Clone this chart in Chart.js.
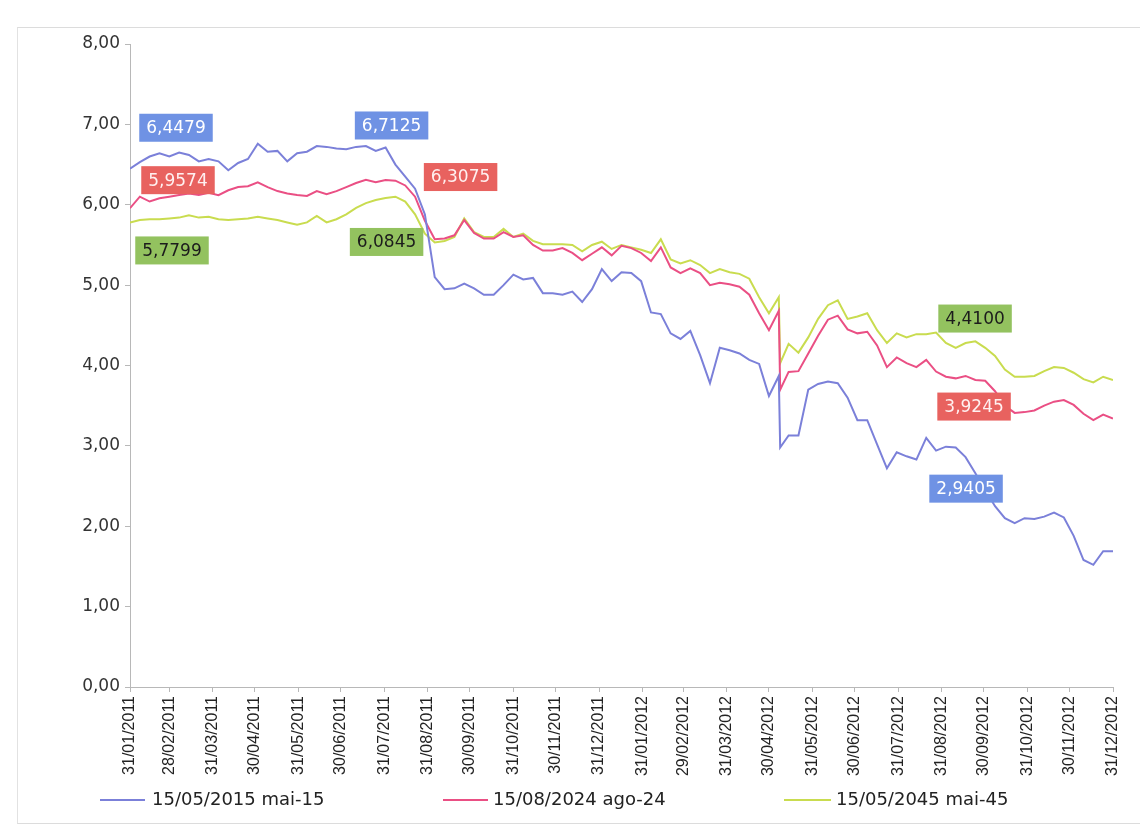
<!DOCTYPE html>
<html>
<head>
<meta charset="utf-8">
<script src="https://cdn.jsdelivr.net/npm/chart.js@4.4.1/dist/chart.umd.min.js"></script>
<style>
    html, body { margin: 0; padding: 0; background: #fff; }
    #wrap { position: relative; width: 1140px; height: 825px; overflow: hidden; }
    #frame { position: absolute; left: 17px; top: 27px; width: 1130px; height: 795px;
             border-top: 1px solid #dcdcdc; border-left: 1px solid #e2e2e2; border-bottom: 1px solid #dcdcdc; }
    canvas { position: absolute; left: 0; top: 0; }
    .lg-line { position: absolute; height: 2px; top: 799px; }
    .lg-text { position: absolute; top: 788px; font: 18px "DejaVu Sans", sans-serif; color: #222; white-space: nowrap; }
</style>
</head>
<body>
<div id="wrap">
    <div id="frame"></div>
    <canvas id="chart" width="1140" height="825"></canvas>
    <div class="lg-line" style="left:100px;width:45px;background:#7b80d9"></div>
    <div class="lg-text" style="left:152px">15/05/2015 mai-15</div>
    <div class="lg-line" style="left:443px;width:45px;background:#ea4f84"></div>
    <div class="lg-text" style="left:493px">15/08/2024 ago-24</div>
    <div class="lg-line" style="left:784px;width:47px;background:#c9dc4f"></div>
    <div class="lg-text" style="left:836px">15/05/2045 mai-45</div>
</div>
<script>
// weekly observation dates (an extra point on 08/05/2012 where the series jump)
const dates = [
    '31/01/2011','07/02/2011','14/02/2011','21/02/2011','28/02/2011','07/03/2011','14/03/2011','21/03/2011','28/03/2011',
    '04/04/2011','11/04/2011','18/04/2011','25/04/2011','02/05/2011','09/05/2011','16/05/2011','23/05/2011','30/05/2011',
    '06/06/2011','13/06/2011','20/06/2011','27/06/2011','04/07/2011','11/07/2011','18/07/2011','25/07/2011','01/08/2011',
    '08/08/2011','15/08/2011','22/08/2011','29/08/2011','05/09/2011','12/09/2011','19/09/2011','26/09/2011','03/10/2011',
    '10/10/2011','17/10/2011','24/10/2011','31/10/2011','07/11/2011','14/11/2011','21/11/2011','28/11/2011','05/12/2011',
    '12/12/2011','19/12/2011','26/12/2011','02/01/2012','09/01/2012','16/01/2012','23/01/2012','30/01/2012','06/02/2012',
    '13/02/2012','20/02/2012','27/02/2012','05/03/2012','12/03/2012','19/03/2012','26/03/2012','02/04/2012','09/04/2012',
    '16/04/2012','23/04/2012','30/04/2012','07/05/2012','08/05/2012','14/05/2012','21/05/2012','28/05/2012','04/06/2012',
    '11/06/2012','18/06/2012','25/06/2012','02/07/2012','09/07/2012','16/07/2012','23/07/2012','30/07/2012','06/08/2012',
    '13/08/2012','20/08/2012','27/08/2012','03/09/2012','10/09/2012','17/09/2012','24/09/2012','01/10/2012','08/10/2012',
    '15/10/2012','22/10/2012','29/10/2012','05/11/2012','12/11/2012','19/11/2012','26/11/2012','03/12/2012','10/12/2012',
    '17/12/2012','24/12/2012','31/12/2012'
];

const serie2015 = [
    6.4479, 6.53, 6.60, 6.64, 6.60, 6.65, 6.62, 6.54, 6.57, 6.54, 6.43, 6.52, 6.57, 6.76, 6.66, 6.67, 6.54, 6.64, 6.66, 6.73,
    6.72, 6.70, 6.69, 6.72, 6.73, 6.67, 6.7125, 6.50, 6.35, 6.20, 5.88, 5.10, 4.95, 4.96, 5.02, 4.96, 4.88, 4.88, 5.00, 5.13,
    5.07, 5.09, 4.90, 4.90, 4.88, 4.92, 4.79, 4.95, 5.20, 5.05, 5.16, 5.15, 5.05, 4.66, 4.64, 4.40, 4.33, 4.43, 4.13, 3.78,
    4.22, 4.19, 4.15, 4.07, 4.02, 3.62, 3.87, 2.98, 3.13, 3.13, 3.70, 3.77, 3.80, 3.78, 3.60, 3.32, 3.32, 3.02, 2.72, 2.92,
    2.87, 2.83, 3.10, 2.9405, 2.99, 2.98, 2.86, 2.66, 2.45, 2.25, 2.10, 2.04, 2.10, 2.09, 2.12, 2.17, 2.11, 1.88, 1.58, 1.52,
    1.69, 1.69
];
const serie2024 = [
    5.9574, 6.10, 6.04, 6.08, 6.10, 6.12, 6.14, 6.12, 6.15, 6.12, 6.18, 6.22, 6.23, 6.28, 6.22, 6.17, 6.14, 6.12, 6.11, 6.17,
    6.13, 6.17, 6.22, 6.27, 6.31, 6.28, 6.3075, 6.30, 6.24, 6.10, 5.80, 5.57, 5.58, 5.62, 5.81, 5.65, 5.58, 5.58, 5.66, 5.60,
    5.62, 5.50, 5.43, 5.43, 5.46, 5.40, 5.31, 5.39, 5.47, 5.37, 5.49, 5.46, 5.40, 5.30, 5.47, 5.22, 5.15, 5.21, 5.15, 5.00,
    5.03, 5.01, 4.98, 4.88, 4.65, 4.44, 4.68, 3.70, 3.92, 3.93, 4.15, 4.37, 4.57, 4.62, 4.45, 4.40, 4.42, 4.25, 3.98, 4.10,
    4.03, 3.98, 4.07, 3.9245, 3.86, 3.84, 3.87, 3.82, 3.81, 3.68, 3.50, 3.41, 3.42, 3.44, 3.50, 3.55, 3.57, 3.51, 3.40, 3.32,
    3.39, 3.34
];
const serie2045 = [
    5.7799, 5.81, 5.82, 5.82, 5.83, 5.84, 5.87, 5.84, 5.85, 5.82, 5.81, 5.82, 5.83, 5.85, 5.83, 5.81, 5.78, 5.75, 5.78, 5.86,
    5.78, 5.82, 5.88, 5.96, 6.02, 6.06, 6.0845, 6.10, 6.04, 5.88, 5.64, 5.53, 5.55, 5.60, 5.83, 5.66, 5.60, 5.60, 5.70, 5.60,
    5.64, 5.55, 5.51, 5.51, 5.51, 5.50, 5.42, 5.50, 5.54, 5.45, 5.50, 5.47, 5.44, 5.40, 5.57, 5.32, 5.27, 5.31, 5.25, 5.15,
    5.20, 5.16, 5.14, 5.08, 4.85, 4.65, 4.85, 4.03, 4.27, 4.16, 4.35, 4.58, 4.75, 4.81, 4.58, 4.61, 4.65, 4.44, 4.28, 4.40,
    4.35, 4.39, 4.39, 4.41, 4.28, 4.22, 4.28, 4.30, 4.22, 4.12, 3.95, 3.86, 3.86, 3.87, 3.93, 3.98, 3.97, 3.91, 3.83, 3.79,
    3.86, 3.82
];

const seriesNames = ['15/05/2015 mai-15', '15/08/2024 ago-24', '15/05/2045 mai-45'];

const tickLabels = [
    '31/01/2011','28/02/2011','31/03/2011','30/04/2011','31/05/2011','30/06/2011','31/07/2011','31/08/2011',
    '30/09/2011','31/10/2011','30/11/2011','31/12/2011','31/01/2012','29/02/2012','31/03/2012','30/04/2012',
    '31/05/2012','30/06/2012','31/07/2012','31/08/2012','30/09/2012','31/10/2012','30/11/2012','31/12/2012'
];

// dates whose values are shown in the coloured boxes
const labelDates = ['31/01/2011', '01/08/2011', '27/08/2012'];

function dayNum(s) {
    const p = s.split('/');
    const t = Date.UTC(+p[2], +p[1] - 1, +p[0]);
    return Math.round((t - Date.UTC(2011, 0, 31)) / 86400000);
}

function toPoints(vals) {
    return vals.map(function (v, i) { return { x: dayNum(dates[i]), y: v }; });
}

// box placement relative to the point (pixels) and colours, per series
const boxStyles = [
    { bg: '#6f92e4', fg: '#ffffff', off: [[46, -41], [6, -22], [30, 38]] },
    { bg: '#e8625f', fg: '#fff0f0', off: [[48, -28], [75, -3], [38, 35]] },
    { bg: '#93c25f', fg: '#1c1c1c', off: [[42, 28], [1, 44], [39, -14]] }
];

const valueBoxes = {
    id: 'valueBoxes',
    afterDatasetsDraw(chart) {
        const ctx = chart.ctx;
        ctx.save();
        ctx.font = '17px "DejaVu Sans", sans-serif';
        ctx.textAlign = 'center';
        ctx.textBaseline = 'middle';
        chart.data.datasets.forEach(function (ds, di) {
            const meta = chart.getDatasetMeta(di);
            labelDates.forEach(function (d, k) {
                const idx = dates.indexOf(d);
                const pt = meta.data[idx];
                const txt = ds.data[idx].y.toFixed(4).replace('.', ',');
                const st = boxStyles[di];
                const cx = pt.x + st.off[k][0];
                const cy = pt.y + st.off[k][1];
                const w = ctx.measureText(txt).width + 14;
                const h = 28;
                ctx.fillStyle = st.bg;
                ctx.fillRect(cx - w / 2, cy - h / 2, w, h);
                ctx.fillStyle = st.fg;
                ctx.fillText(txt, cx, cy + 1);
            });
        });
        ctx.restore();
    }
};

new Chart(document.getElementById('chart'), {
    type: 'line',
    data: {
        datasets: [
            { label: seriesNames[0], data: toPoints(serie2015), borderColor: '#7b80d9', borderWidth: 2 },
            { label: seriesNames[1], data: toPoints(serie2024), borderColor: '#ea4f84', borderWidth: 2 },
            { label: seriesNames[2], data: toPoints(serie2045), borderColor: '#c9dc4f', borderWidth: 2 }
        ]
    },
    options: {
        responsive: false,
        animation: false,
        layout: { padding: { top: 44, right: 27, bottom: 45, left: 0 } },
        elements: { point: { radius: 0 }, line: { tension: 0 } },
        plugins: { legend: { display: false }, tooltip: { enabled: false } },
        scales: {
            x: {
                type: 'linear',
                min: 0,
                max: dayNum(tickLabels[tickLabels.length - 1]),
                afterBuildTicks: function (axis) {
                    axis.ticks = tickLabels.map(function (t) { return { value: dayNum(t) }; });
                },
                afterFit: function (axis) { axis.height = 825 - 45 - 687; },
                grid: { drawOnChartArea: false, tickLength: 5, color: '#b8b8b8' },
                border: { color: '#b8b8b8' },
                ticks: {
                    autoSkip: false,
                    minRotation: 90,
                    maxRotation: 90,
                    padding: 4,
                    color: '#222',
                    font: { family: '"Liberation Sans", sans-serif', size: 16 },
                    callback: function (v, i) { return tickLabels[i]; }
                }
            },
            y: {
                min: 0,
                max: 8,
                afterFit: function (axis) { axis.width = 130; },
                grid: { drawOnChartArea: false, tickLength: 5, color: '#b8b8b8' },
                border: { color: '#b8b8b8' },
                ticks: {
                    stepSize: 1,
                    padding: 5,
                    color: '#333',
                    font: { family: '"DejaVu Sans", sans-serif', size: 17 },
                    callback: function (v) { return v.toFixed(2).replace('.', ','); }
                }
            }
        }
    },
    plugins: [valueBoxes]
});
</script>
</body>
</html>
